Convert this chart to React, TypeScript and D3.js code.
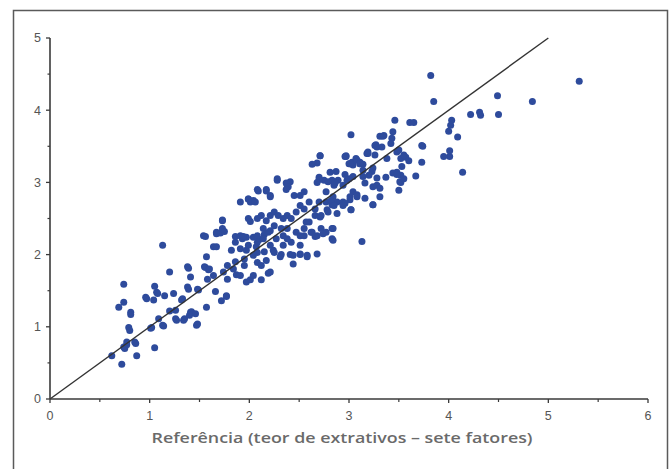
import React from "react";
import * as d3 from "d3";

// Reference (x) vs predicted (y) extractive content
const refValues: number[] = [
  // low-left
  0.62, 0.72, 0.74, 0.69, 0.74, 0.77, 0.74, 0.81, 0.79, 0.80, 0.77, 0.85, 0.87, 0.86, 0.75, 0.81,
  0.96, 0.97, 1.04, 1.05, 1.07, 1.02, 1.01, 1.05, 1.09, 1.13, 1.13, 1.14, 1.08, 1.15, 1.20, 1.20,
  1.24, 1.26, 1.27, 1.33, 1.34, 1.35, 1.32, 1.38, 1.39, 1.41, 1.42, 1.40, 1.41, 1.46, 1.47, 1.48,
  1.48, 1.49, 1.38, 1.39, 1.26, 1.55, 1.56, 1.57, 1.57, 1.59, 1.54, 1.56, 1.58, 1.60, 1.64, 1.66,
  1.64, 1.67, 1.67, 1.67, 1.71, 1.72, 1.73, 1.73, 1.75, 1.77, 1.77, 1.74, 1.78, 1.78, 1.73, 1.82,
  1.84, 1.86, 1.86, 1.87, 1.86, 1.91, 1.91, 1.93, 1.95, 1.95, 1.97, 1.97, 1.91, 1.97, 2.01, 2.04,
  2.04, 2.07, 2.08, 2.08, 2.12, 2.15, 2.17, 2.12, 1.99, 2.04, 2.10, 2.15, 2.21, 2.24, 1.94, 1.99,
  // central cloud
  1.91, 1.99, 2.04, 2.08, 2.17, 2.21, 2.28, 2.38, 2.41, 2.45, 2.51, 2.55, 2.09, 2.17, 2.21, 2.01,
  2.06, 1.99, 2.01, 2.08, 2.12, 2.17, 2.21, 2.25, 2.29, 2.34, 2.38, 2.42, 2.47, 2.51, 2.25, 2.32,
  2.38, 2.34, 2.27, 2.21, 2.14, 2.08, 2.14, 2.19, 2.08, 2.25, 2.34, 2.38, 2.42, 2.51, 2.55, 2.60,
  2.66, 2.72, 2.77, 2.47, 2.51, 2.55, 2.62, 2.68, 2.83, 2.83, 2.68, 2.58, 2.51, 2.44, 2.44, 2.32,
  2.21, 2.19, 2.31, 2.41, 2.51, 2.58, 2.28, 2.37, 2.39, 2.37, 2.66, 2.74, 2.84, 2.84, 2.71, 2.78,
  2.88, 2.84, 2.88, 2.83, 2.94, 2.55, 2.60, 2.66, 2.70, 2.77, 2.82, 2.85, 2.79, 2.72, 2.57, 2.63,
  2.70, 2.75, 2.81, 2.83, 2.85, 2.77, 2.71, 2.68, 2.87, 2.89, 2.86, 2.79, 2.70, 2.68,
  // upper right
  2.63, 2.71, 2.97, 3.00, 3.04, 3.11, 3.14, 3.02, 2.96, 3.03, 3.07, 3.11, 3.19, 3.26, 3.27, 3.28,
  3.18, 3.23, 3.28, 3.16, 3.24, 3.24, 3.13, 2.96, 2.98, 2.94, 3.04, 3.08, 3.01, 3.02, 2.97, 3.01,
  3.08, 3.11, 3.04, 3.14, 3.24, 3.28, 3.31, 3.24, 3.31, 3.16, 3.08, 3.01, 2.96, 3.02, 3.31, 3.34,
  3.44, 3.43, 3.42, 3.33, 3.26, 3.19, 3.46, 3.61, 3.65, 3.48, 3.52, 3.57, 3.50, 3.55, 3.60, 3.53,
  3.48, 3.52, 3.52, 3.50, 3.44, 3.48, 3.51, 3.55, 3.38, 3.37, 3.20, 3.14, 2.94, 3.00, 3.35,
  3.73, 3.73, 3.67, 3.74, 3.82, 3.85, 4.03, 4.02, 4.00, 4.09, 4.01, 4.01, 3.95, 4.14, 4.22, 4.31,
  4.32, 4.49, 4.50, 4.84, 5.31,
];

const predValues: number[] = [
  0.60, 0.48, 0.72, 1.27, 1.34, 0.79, 1.59, 1.20, 0.99, 0.95, 0.75, 0.79, 0.60, 0.77, 0.70, 1.17,
  1.41, 1.39, 1.37, 0.71, 1.48, 0.99, 0.98, 1.56, 1.11, 2.13, 1.02, 1.01, 1.46, 1.43, 1.76, 1.22,
  1.46, 1.11, 1.09, 1.39, 1.09, 1.11, 1.37, 1.55, 1.52, 1.20, 1.21, 1.16, 1.69, 1.18, 1.02, 1.04,
  1.52, 1.51, 1.83, 1.81, 1.23, 1.83, 1.82, 1.27, 1.97, 1.79, 2.26, 2.25, 1.66, 1.80, 1.71, 1.49,
  2.11, 2.31, 2.11, 2.29, 2.30, 1.36, 2.48, 2.36, 2.32, 1.42, 1.43, 1.76, 1.85, 1.66, 2.47, 2.06,
  1.80, 1.90, 2.17, 1.72, 2.25, 2.26, 2.08, 2.22, 1.85, 1.94, 1.62, 2.24, 1.71, 2.06, 1.65, 1.71,
  2.24, 2.11, 1.89, 2.03, 1.85, 2.04, 1.92, 1.65, 2.13, 1.99, 2.21, 2.28, 2.33, 2.06, 2.25, 2.77,
  2.73, 2.77, 2.75, 2.90, 2.90, 2.82, 3.05, 2.96, 3.01, 2.82, 2.82, 2.87, 2.88, 2.88, 2.80, 2.73,
  2.73, 2.50, 2.46, 2.50, 2.54, 2.47, 2.54, 2.59, 2.54, 2.50, 2.54, 2.50, 2.59, 2.68, 2.40, 2.36,
  2.36, 2.26, 2.22, 2.13, 2.22, 2.26, 2.36, 2.31, 2.17, 2.03, 2.13, 2.22, 2.17, 2.13, 2.36, 2.45,
  2.54, 2.36, 2.31, 2.31, 2.26, 2.26, 2.31, 2.26, 2.36, 2.22, 2.01, 1.99, 2.01, 1.99, 1.87, 2.00,
  1.76, 1.74, 1.97, 2.00, 2.00, 1.97, 3.03, 2.99, 2.94, 2.90, 2.25, 2.29, 2.36, 2.20, 2.52, 2.62,
  2.57, 2.80, 2.73, 2.69, 2.73, 2.63, 2.73, 2.63, 2.73, 2.73, 2.75, 2.68, 2.59, 2.54, 2.45, 2.31,
  3.07, 3.03, 3.14, 3.03, 2.96, 2.87, 3.37, 3.27, 3.15, 3.03, 2.99, 3.01, 3.04, 3.00,
  3.25, 3.37, 3.37, 3.26, 3.24, 3.26, 3.25, 3.66, 3.36, 3.28, 3.33, 3.28, 3.42, 3.51, 3.52, 3.49,
  3.40, 3.15, 3.06, 2.99, 2.94, 2.69, 2.18, 3.11, 3.03, 2.96, 2.87, 2.80, 2.76, 2.62, 3.36, 3.26,
  3.31, 3.26, 3.08, 3.08, 3.20, 2.96, 2.92, 2.69, 2.80, 2.78, 2.83, 2.80, 2.71, 2.62, 3.64, 3.64,
  3.70, 3.61, 3.54, 3.49, 3.38, 3.40, 3.86, 3.83, 3.83, 3.42, 3.33, 3.35, 3.45, 3.38, 3.30, 3.22,
  3.14, 3.10, 3.00, 2.89, 3.13, 3.11, 3.01, 3.05, 3.33, 3.07, 3.10, 3.17, 2.68, 3.05, 3.65,
  3.51, 3.28, 3.09, 3.50, 4.48, 4.12, 3.86, 3.79, 3.71, 3.63, 3.44, 3.36, 3.36, 3.14, 3.94, 3.97,
  3.93, 4.20, 3.94, 4.12, 4.40,
];

const xTicks: number[] = [0, 1, 2, 3, 4, 5, 6];
const yTicks: number[] = [0, 1, 2, 3, 4, 5];
const xMinor: number[] = [0.5, 1.5, 2.5, 3.5, 4.5, 5.5];
const yMinor: number[] = [0.5, 1.5, 2.5, 3.5, 4.5];
const refLine: [number, number][] = [[0, 0], [5, 5]];
const xTitle = "Referência (teor de extrativos – sete fatores)";

export default function App() {
  const W = 672, H = 469;
  const x = d3.scaleLinear().domain([0, 6]).range([50, 648]);
  const y = d3.scaleLinear().domain([0, 5]).range([399, 38]);
  const n = Math.min(refValues.length, predValues.length);
  const pts = d3.range(n).map((i) => [refValues[i], predValues[i]] as [number, number]);
  const line = d3.line<[number, number]>().x((d) => x(d[0])).y((d) => y(d[1]));
  const axisColor = "#3a3a3a";
  const labelFont = "'Liberation Sans Narrow', 'Liberation Sans', Arial, sans-serif";

  return (
    <svg width={W} height={H} style={{ position: "absolute", left: 0, top: 0, background: "#fff" }}>
      <rect x={0} y={0} width={W} height={H} fill="#fff" />
      {/* frame */}
      <path d={`M13.5,${H + 2} V10.5 H667.5 V${H + 2}`} fill="none" stroke="#5a5a5a" strokeWidth={1.5} />

      {/* points */}
      <g fill="#2e4b9c">
        {pts.map((d, i) => (
          <circle key={i} cx={x(d[0])} cy={y(d[1])} r={3.5} />
        ))}
      </g>

      {/* 1:1 line */}
      <path d={line(refLine) || ""} fill="none" stroke="#333" strokeWidth={1.4} />

      {/* axes */}
      <line x1={x(0)} x2={x(0)} y1={y(5)} y2={y(0)} stroke={axisColor} strokeWidth={1.6} />
      <line x1={x(0)} x2={x(6)} y1={y(0)} y2={y(0)} stroke={axisColor} strokeWidth={1.6} />
      {yTicks.map((t) => (
        <g key={"yt" + t}>
          <line x1={x(0) - 4} x2={x(0)} y1={y(t)} y2={y(t)} stroke={axisColor} strokeWidth={1.3} />
          <text x={41} y={y(t)} dy="0.35em" textAnchor="end" fontFamily={labelFont} fontSize={12.5} fill="#555">
            {t}
          </text>
        </g>
      ))}
      {yMinor.map((t) => (
        <line key={"ym" + t} x1={x(0) - 2.5} x2={x(0)} y1={y(t)} y2={y(t)} stroke={axisColor} strokeWidth={1.2} />
      ))}
      {xTicks.map((t) => (
        <g key={"xt" + t}>
          <line x1={x(t)} x2={x(t)} y1={y(0)} y2={y(0) + 4} stroke={axisColor} strokeWidth={1.3} />
          <text x={x(t)} y={420} textAnchor="middle" fontFamily={labelFont} fontSize={12.5} fill="#555">
            {t}
          </text>
        </g>
      ))}
      {xMinor.map((t) => (
        <line key={"xm" + t} x1={x(t)} x2={x(t)} y1={y(0)} y2={y(0) + 3} stroke={axisColor} strokeWidth={1.2} />
      ))}

      <text
        x={342}
        y={443}
        textAnchor="middle"
        fontFamily="'Open Sans', sans-serif"
        fontWeight={600}
        fontSize={15}
        fill="#6a6a6a"
        textLength={381}
        lengthAdjust="spacingAndGlyphs"
      >
        {xTitle}
      </text>
    </svg>
  );
}
